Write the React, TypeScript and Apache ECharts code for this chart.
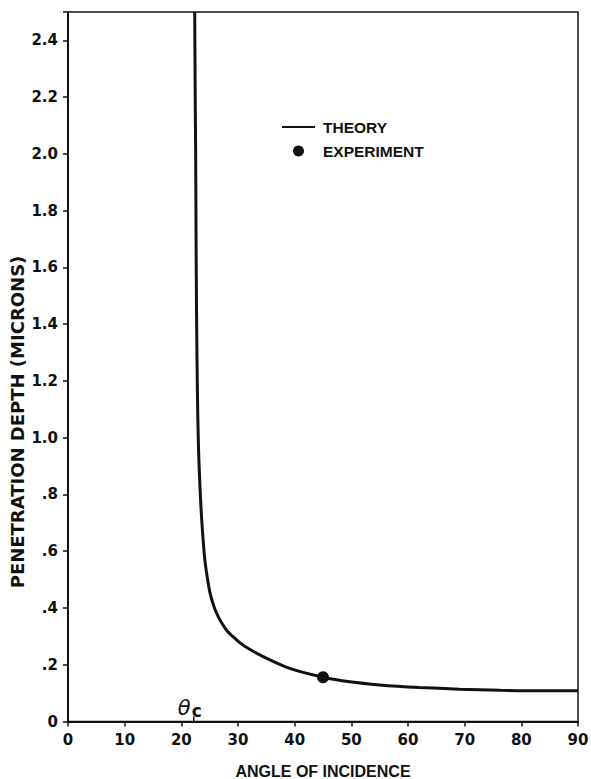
import React, { useEffect, useRef } from "react";
import * as echarts from "echarts";

// Angle of incidence (degrees) and penetration depth (microns)
const theoryAngle = [22.36, 22.45, 22.53, 22.6, 22.68, 22.78, 22.9, 23.05, 23.24, 23.45, 23.72, 24.12, 24.6, 25.1, 25.9, 26.6, 27.35, 28.2, 29.12, 30.3, 31.76, 35.0, 39.1, 45.0, 49.7, 55.0, 62.0, 69.1, 76.2, 83.2, 90];
const theoryDepth = [2.5, 2.2, 2.0, 1.7, 1.45, 1.25, 1.08, 0.95, 0.85, 0.76, 0.674, 0.575, 0.505, 0.45, 0.397, 0.366, 0.34, 0.316, 0.299, 0.278, 0.258, 0.223, 0.187, 0.156, 0.14, 0.129, 0.12, 0.114, 0.11, 0.108, 0.108];
const experimentAngle = [45];
const experimentDepth = [0.156];
const criticalAngle = 22.2;
const xTicks = [0, 10, 20, 30, 40, 50, 60, 70, 80, 90];

const LABEL_FONT = "'DejaVu Sans', sans-serif";
const NAME_FONT = "'Liberation Sans', Arial, sans-serif";

export default function App() {
  const ref = useRef<HTMLDivElement>(null);
  useEffect(() => {
    if (!ref.current) return;
    const chart = echarts.init(ref.current, null, { renderer: "svg" });
    const yFmt = (v: number) => {
      const r = Math.round(v * 10) / 10;
      if (Math.abs(v - 2.5) < 1e-6) return "";
      if (r === 0) return "0";
      if (r < 1) return "." + Math.round(r * 10);
      return r.toFixed(1);
    };
    chart.setOption({
      animation: false,
      backgroundColor: "#ffffff",
      grid: {
        left: 68,
        right: 13,
        top: 12,
        bottom: 57.5,
        containLabel: false,
        outerBoundsMode: "none",
        show: true,
        borderColor: "#111",
        borderWidth: 1.5,
        backgroundColor: "transparent",
      },
      legend: {
        orient: "vertical",
        left: 276,
        top: 114,
        itemWidth: 33,
        itemHeight: 11,
        itemGap: 8,
        selectedMode: false,
        textStyle: {
          fontFamily: NAME_FONT,
          fontWeight: "bold",
          fontSize: 15.5,
          color: "#111",
          padding: [0, 0, 0, 3],
        },
        data: [
          { name: "THEORY", itemStyle: { opacity: 0 } },
          { name: "EXPERIMENT", icon: "circle", itemStyle: { opacity: 1 } },
        ],
      },
      xAxis: {
        type: "value",
        min: 0,
        max: 90,
        interval: 10,
        splitLine: { show: false },
        axisLine: { show: true, onZero: false, lineStyle: { color: "#111", width: 2 } },
        axisTick: { show: true, inside: false, length: 5, lineStyle: { color: "#111", width: 1.5 } },
        axisLabel: {
          margin: 11,
          fontFamily: LABEL_FONT,
          fontWeight: "bold",
          fontSize: 15,
          color: "#111",
          formatter: (v: number) => (xTicks.includes(Math.round(v)) ? String(Math.round(v)) : ""),
        },
        name: "ANGLE OF INCIDENCE",
        nameLocation: "middle",
        nameGap: 42,
        nameTextStyle: { fontFamily: NAME_FONT, fontWeight: "bold", fontSize: 16, color: "#111" },
      },
      yAxis: {
        type: "value",
        min: 0,
        max: 2.5,
        interval: 0.2,
        splitLine: { show: false },
        axisLine: { show: true, onZero: false, lineStyle: { color: "#111", width: 2 } },
        axisTick: { show: true, inside: false, length: 5, lineStyle: { color: "#111", width: 1.5 } },
        axisLabel: {
          margin: 10,
          fontFamily: LABEL_FONT,
          fontWeight: "bold",
          fontSize: 15,
          color: "#111",
          formatter: yFmt,
        },
      },
      series: [
        {
          name: "THEORY",
          type: "line",
          data: theoryAngle.map((a, i) => [a, theoryDepth[i]]),
          symbol: "none",
          smooth: 0.25,
          lineStyle: { color: "#111", width: 3 },
          itemStyle: { color: "#111" },
          z: 3,
        },
        {
          name: "EXPERIMENT",
          type: "scatter",
          data: experimentAngle.map((a, i) => [a, experimentDepth[i]]),
          symbol: "circle",
          symbolSize: 12,
          itemStyle: { color: "#111", opacity: 1 },
          z: 4,
        },
      ],
    });
    const p = chart.convertToPixel({ xAxisIndex: 0, yAxisIndex: 0 }, [criticalAngle, 0]) as number[];
    chart.setOption({
      graphic: [
        {
          type: "line",
          shape: { x1: p[0], y1: p[1] - 5, x2: p[0], y2: p[1] },
          style: { stroke: "#111", lineWidth: 1.5 },
        },
        {
          type: "text",
          x: p[0] - 16,
          y: p[1] - 25,
          style: {
            text: "{a|θ}{b|c}",
            rich: {
              a: { fontFamily: LABEL_FONT, fontStyle: "italic", fontSize: 21, fill: "#111", fontWeight: "normal" },
              b: { fontFamily: LABEL_FONT, fontSize: 17, fontWeight: "bold", fill: "#111", padding: [6, 0, 0, 1] },
            },
          },
        },
        {
          type: "text",
          x: 17,
          y: 422,
          rotation: Math.PI / 2,
          style: {
            text: "PENETRATION DEPTH (MICRONS)",
            fontFamily: "'DejaVu Sans', sans-serif",
            fontWeight: "bold",
            fontSize: 18,
            fill: "#111",
            align: "center",
            verticalAlign: "middle",
          },
        },
      ],
    });
    return () => chart.dispose();
  }, []);
  return (
    <div
      ref={ref}
      style={{ position: "fixed", left: 0, top: 0, width: 591, height: 779, background: "#fff" }}
    />
  );
}
